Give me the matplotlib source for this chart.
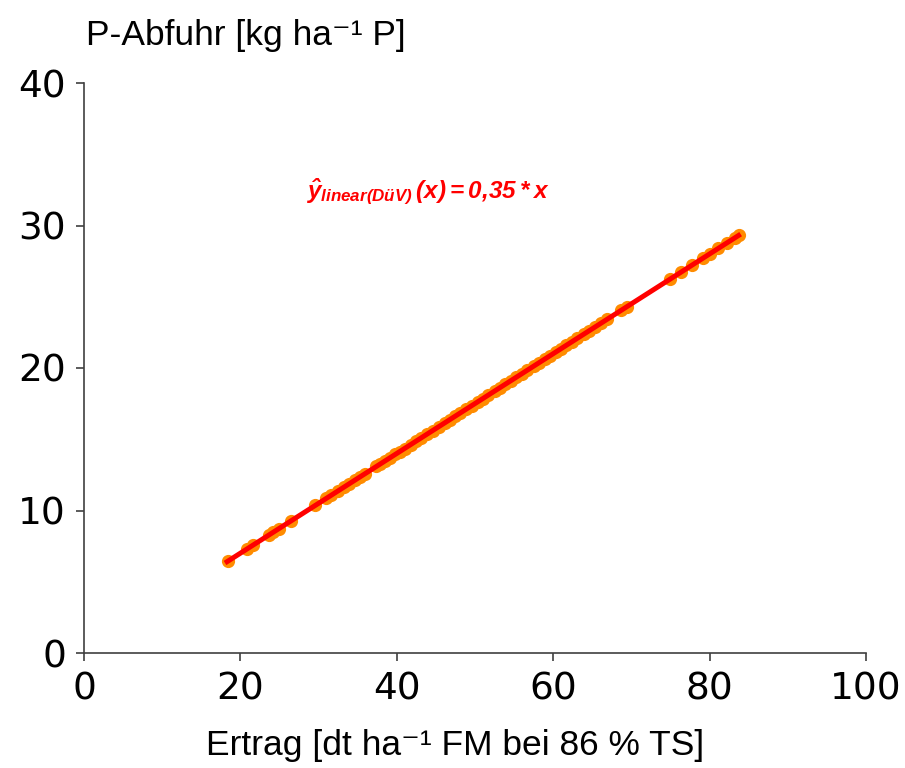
import matplotlib
matplotlib.use("Agg")
import matplotlib.pyplot as plt

# Beobachtungen: Ertrag (dt/ha FM bei 86 % TS) und P-Abfuhr (kg/ha P)
ertrag = [18.4, 20.8, 21.6, 23.6, 24.2, 24.9, 26.5, 29.6, 31.0, 31.6,
          32.5, 33.2, 33.9, 34.6, 35.3, 35.9, 37.4, 37.9, 38.5, 39.1,
          39.8, 40.4, 41.0, 41.8, 42.5, 43.1, 43.9, 44.6, 45.4, 46.1,
          46.8, 47.5, 48.1, 48.9, 49.6, 50.4, 51.0, 51.7, 52.5, 53.2,
          53.9, 54.6, 55.3, 56.0, 56.7, 57.5, 58.2, 58.9, 59.6, 60.3,
          61.0, 61.7, 62.4, 63.1, 63.9, 64.6, 65.3, 66.1, 66.9, 68.7,
          69.4, 74.9, 76.4, 77.7, 79.2, 80.0, 81.1, 82.2, 83.2, 83.7]
p_abfuhr = [6.44, 7.28, 7.56, 8.26, 8.47, 8.72, 9.28, 10.36, 10.85, 11.06,
            11.38, 11.62, 11.87, 12.11, 12.36, 12.57, 13.09, 13.27, 13.48, 13.69,
            13.93, 14.14, 14.35, 14.63, 14.88, 15.09, 15.37, 15.61, 15.89, 16.14,
            16.38, 16.63, 16.84, 17.12, 17.36, 17.64, 17.85, 18.10, 18.38, 18.62,
            18.87, 19.11, 19.36, 19.60, 19.85, 20.13, 20.37, 20.62, 20.86, 21.11,
            21.35, 21.60, 21.84, 22.09, 22.37, 22.61, 22.86, 23.14, 23.42, 24.05,
            24.29, 26.22, 26.74, 27.20, 27.72, 28.00, 28.39, 28.77, 29.12, 29.30]

# lineare Funktion nach DüV
linie_x = [18.3, 83.7]
linie_y = [6.41, 29.30]

xticks = [0, 20, 40, 60, 80, 100]
yticks = [0, 10, 20, 30, 40]

plt.rcParams['mathtext.fontset'] = 'custom'
plt.rcParams['mathtext.rm'] = 'Liberation Sans:italic:bold'
plt.rcParams['mathtext.it'] = 'Liberation Sans:italic:bold'
plt.rcParams['mathtext.bf'] = 'Liberation Sans:italic:bold'

fig = plt.figure(figsize=(9.05, 7.68), dpi=100)
ax = fig.add_axes([84/905, 1-653/768, (866-84)/905, (653-83)/768])

ax.plot(ertrag, p_abfuhr, 'o', color='#ff8c00', markersize=9.5, markeredgewidth=0)
ax.plot(linie_x, linie_y, '-', color='#ff0000', linewidth=3.6)

ax.set_xlim(0, 100)
ax.set_ylim(0, 40)
ax.set_xticks(xticks)
ax.set_yticks(yticks)
ax.spines['top'].set_visible(False)
ax.spines['right'].set_visible(False)
for s in ['left', 'bottom']:
    ax.spines[s].set_color('#404040')
    ax.spines[s].set_linewidth(1.2)
ax.tick_params(direction='out', length=6, width=1.2, color='#404040',
               labelsize=27, pad=7)
for lab in ax.get_xticklabels() + ax.get_yticklabels():
    lab.set_family('DejaVu Sans')

ax.text(44, 32.4, r'$\hat{y}_{linear(DüV)}\,(x) = 0{,}35*x$', color='#ff0000',
        fontsize=17.5, ha='center', va='center')

fig.text(86/905, 1-35/768, 'P-Abfuhr [kg ha\u207b\u00b9 P]',
         family=['Liberation Sans', 'DejaVu Sans'], fontsize=25.5,
         ha='left', va='center')
fig.text(455/905, 1-745/768, 'Ertrag [dt ha\u207b\u00b9 FM bei 86 % TS]',
         family=['Liberation Sans', 'DejaVu Sans'], fontsize=25.5,
         ha='center', va='center')

fig.savefig('out.png', dpi=100)
